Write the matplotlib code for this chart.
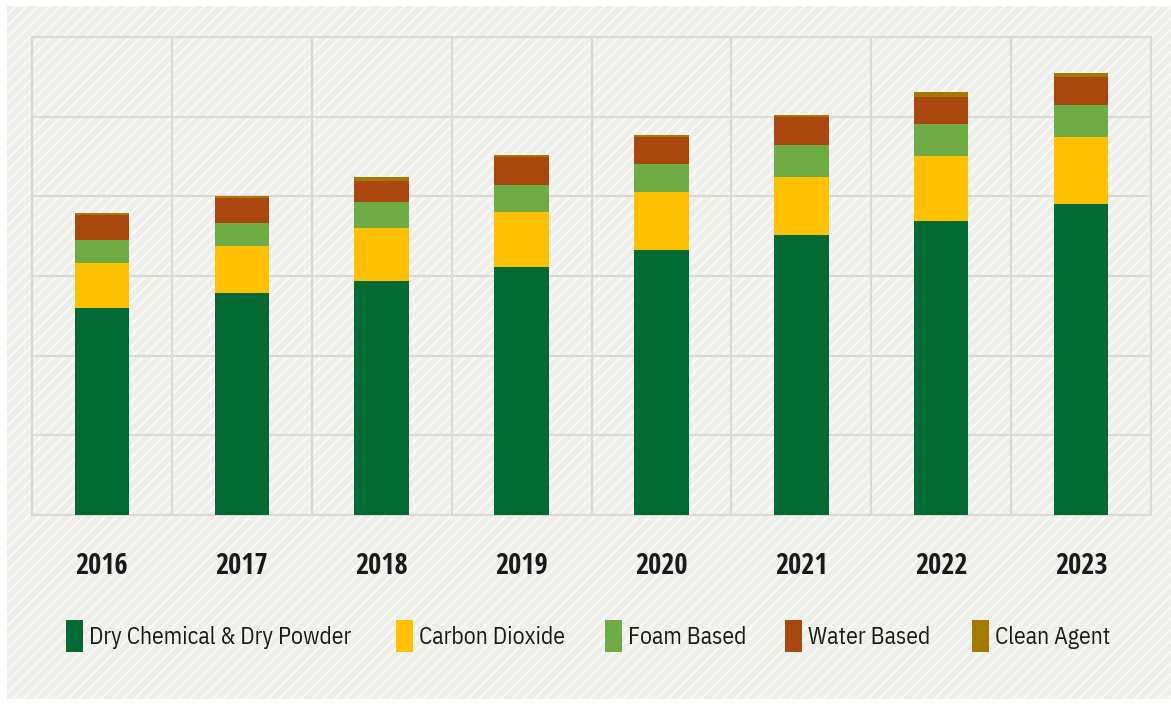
import matplotlib
matplotlib.use("Agg")
import matplotlib.pyplot as plt
from matplotlib.patches import Rectangle
from matplotlib.font_manager import FontProperties
import numpy as np

years = ["2016", "2017", "2018", "2019", "2020", "2021", "2022", "2023"]
dry_chemical = [2.60, 2.79, 2.94, 3.11, 3.33, 3.51, 3.69, 3.90]
carbon_dioxide = [0.565, 0.59, 0.66, 0.69, 0.72, 0.73, 0.82, 0.84]
foam_based = [0.29, 0.29, 0.33, 0.34, 0.35, 0.41, 0.40, 0.41]
water_based = [0.31, 0.31, 0.26, 0.35, 0.35, 0.34, 0.34, 0.35]
clean_agent = [0.03, 0.03, 0.05, 0.03, 0.02, 0.03, 0.06, 0.05]

series = [
    ("Dry Chemical & Dry Powder", dry_chemical, "#046A34"),
    ("Carbon Dioxide", carbon_dioxide, "#FFC000"),
    ("Foam Based", foam_based, "#6FAC45"),
    ("Water Based", water_based, "#A9470E"),
    ("Clean Agent", clean_agent, "#A27A00"),
]
# left edge of each legend swatch, in figure pixels
legend_x_px = [66, 396, 605, 785, 972]

plt.rcParams['hatch.linewidth'] = 1.4

tick_font = FontProperties(family=['Open Sans Condensed', 'DejaVu Sans'], weight='bold', size=20.5)
leg_font = FontProperties(family=['IBM Plex Sans Condensed', 'DejaVu Sans'], weight='normal',
                          stretch='condensed', size=17)

W, H = 1171, 706
fig = plt.figure(figsize=(W/100, H/100), dpi=100, facecolor='white')

# hatched background
bg = Rectangle((7/W, 7/H), 1 - 7/W, 1 - 13/H, transform=fig.transFigure,
               facecolor='#EEEEEB', edgecolor='#FAFAF9', hatch='///', linewidth=0, zorder=-10)
fig.patches.append(bg)

ax = fig.add_axes([32/W, (H-515)/H, (1151-32)/W, (515-37)/H])
ax.set_facecolor('none')

x = np.arange(len(years))
bottom = np.zeros(len(years))
handles = []
for name, vals, col in series:
    vals = np.array(vals)
    h = ax.bar(x, vals, width=0.39, bottom=bottom, color=col, label=name, zorder=3)
    handles.append(h)
    bottom += vals

ax.set_xlim(-0.5, len(years) - 0.5)
ax.set_ylim(0, 6)
ax.set_yticks(np.arange(0, 7, 1))
ax.set_yticklabels([])
ax.tick_params(axis='y', length=0)
ax.set_xticks(x)
ax.set_xticklabels(years, fontproperties=tick_font, color='#1A1A1A')
ax.set_xticks(np.arange(-0.5, len(years), 1), minor=True)
ax.tick_params(axis='x', which='both', length=0, pad=27)
ax.grid(True, which='major', axis='y', color='#D9D9D9', linewidth=1.5, zorder=1)
ax.grid(True, which='minor', axis='x', color='#D9D9D9', linewidth=1.5, zorder=1)
for s in ax.spines.values():
    s.set_color('#D9D9D9')
    s.set_linewidth(1.5)

for (name, _, _), h, xp in zip(series, handles, legend_x_px):
    leg = fig.legend(handles=[h], labels=[name], loc='center left',
                     bbox_to_anchor=(xp/W, (H-636)/H), frameon=False, borderpad=0,
                     borderaxespad=0, handlelength=0.72, handleheight=1.7,
                     handletextpad=0.25, prop=leg_font)
    for t in leg.get_texts():
        t.set_color('#1A1A1A')

fig.savefig("out.png", dpi=100, facecolor='white')
